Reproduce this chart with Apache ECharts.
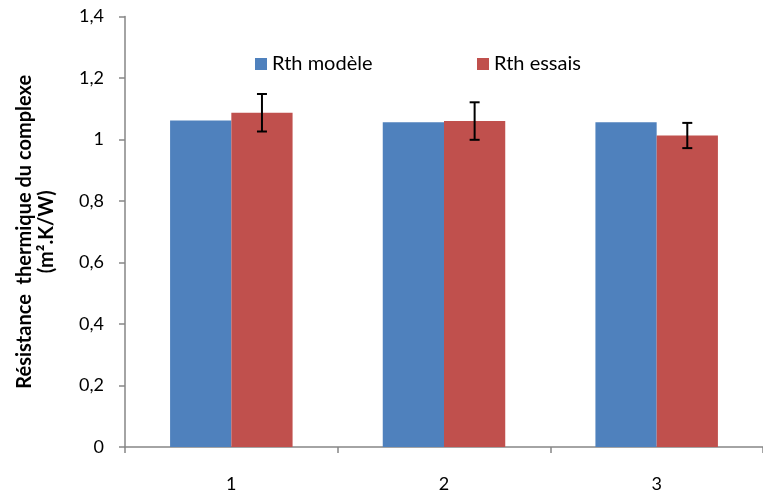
<!DOCTYPE html>
<html><head><meta charset="utf-8">
<script src="https://cdn.jsdelivr.net/npm/echarts@6/dist/echarts.min.js"></script>
<style>html,body{margin:0;padding:0;background:#fff}#c{width:763px;height:495px}</style>
</head><body><div id="c"></div>
<script>
const categories = ['1', '2', '3'];
const rthModele = [1.062, 1.056, 1.056];
const rthEssais = [1.087, 1.060, 1.013];
const errLow = [1.026, 0.999, 0.972];
const errHigh = [1.148, 1.121, 1.054];
const yTicks = [0, 0.2, 0.4, 0.6, 0.8, 1, 1.2, 1.4];

const FONT = 'Lato';
const BAR_W = 0.288;
const chart = echarts.init(document.getElementById('c'), null, {renderer: 'canvas'});
chart.setOption({
  animation: false,
  textStyle: {fontFamily: FONT},
  grid: {left: 125, right: -8, top: 16.5, bottom: 48, containLabel: false},
  legend: [
    {data: ['Rth modèle'], left: 250, top: 49, icon: 'rect', itemWidth: 12, itemHeight: 12, itemGap: 6,
     textStyle: {fontFamily: FONT, fontSize: 20, color: '#000'}},
    {data: ['Rth essais'], left: 472, top: 49, icon: 'rect', itemWidth: 12, itemHeight: 12, itemGap: 6,
     textStyle: {fontFamily: FONT, fontSize: 20, color: '#000'}}
  ],
  xAxis: {
    type: 'category', data: categories,
    axisLine: {lineStyle: {color: '#868686', width: 1.5}},
    axisTick: {show: true, length: 6, lineStyle: {color: '#868686', width: 1.5}},
    axisLabel: {margin: 28, fontSize: 18, color: '#000', fontFamily: FONT}
  },
  yAxis: {
    type: 'value', min: 0, max: 1.4, interval: 0.2,
    name: 'Résistance  thermique du complexe\n(m².K/W)',
    nameLocation: 'middle', nameRotate: 90, nameGap: 67,
    nameTextStyle: {fontFamily: FONT, fontSize: 20, fontWeight: 'bold', color: '#000', lineHeight: 22},
    axisLine: {show: true, lineStyle: {color: '#868686', width: 1.5}},
    axisTick: {show: true, length: 6, lineStyle: {color: '#868686', width: 1.5}},
    splitLine: {show: false},
    axisLabel: {margin: 21, fontSize: 18, color: '#000', fontFamily: FONT,
      formatter: v => {
        const t = yTicks.find(x => Math.abs(x - v) < 1e-9);
        return String(Math.round((t !== undefined ? t : v) * 10) / 10).replace('.', ',');
      }}
  },
  series: [
    {name: 'Rth modèle', type: 'bar', data: rthModele, barWidth: (BAR_W * 100) + '%', barGap: '0%',
     itemStyle: {color: '#4F81BD'}},
    {name: 'Rth essais', type: 'bar', data: rthEssais, barWidth: (BAR_W * 100) + '%', barGap: '0%',
     itemStyle: {color: '#C0504D'}},
    {type: 'custom', name: 'err', z: 10,
     data: categories.map((c, i) => [i, errLow[i], errHigh[i]]),
     renderItem: (params, api) => {
       const band = api.size([1, 0])[0];
       const lo = api.coord([api.value(0), api.value(1)]);
       const hi = api.coord([api.value(0), api.value(2)]);
       const x = lo[0] + band * BAR_W / 2;
       const cap = 5;
       const st = {stroke: '#000', lineWidth: 2};
       return {type: 'group', children: [
         {type: 'line', shape: {x1: x, y1: hi[1], x2: x, y2: lo[1]}, style: st},
         {type: 'line', shape: {x1: x - cap, y1: hi[1], x2: x + cap, y2: hi[1]}, style: st},
         {type: 'line', shape: {x1: x - cap, y1: lo[1], x2: x + cap, y2: lo[1]}, style: st}
       ]};
     }}
  ]
});
</script></body></html>
